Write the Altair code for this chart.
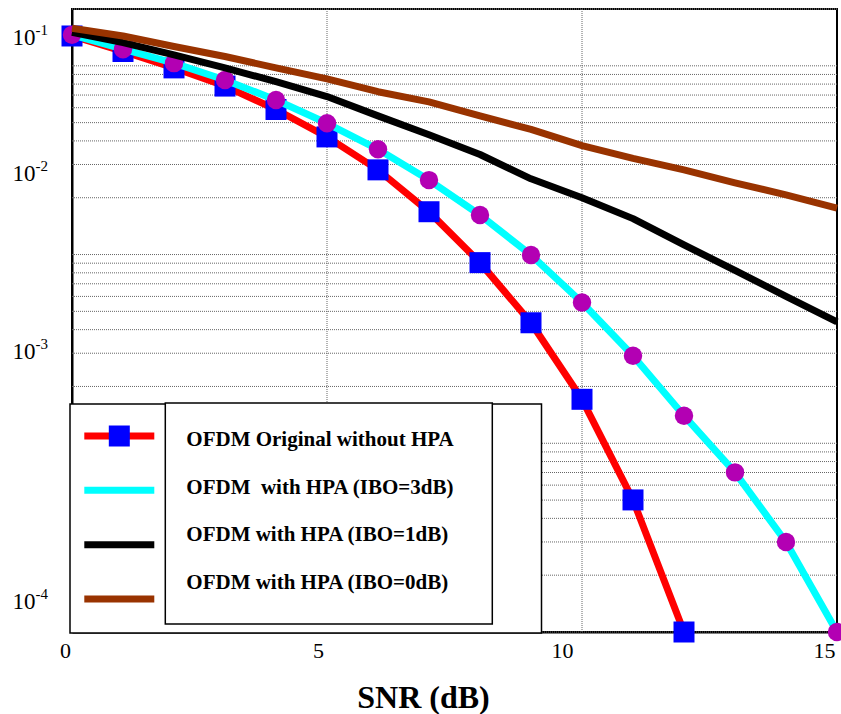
import altair as alt
import pandas as pd

# ---------------- data ----------------
snr = list(range(0, 16))
series_names = [
    "OFDM Original without HPA",
    "OFDM\u00a0 with HPA (IBO=3dB)",
    "OFDM with HPA (IBO=1dB)",
    "OFDM with HPA (IBO=0dB)",
]
series_colors = ["#FF0000", "#00FFFF", "#000000", "#993300"]

ber_orig = [0.1439, 0.1191, 0.0975, 0.0781, 0.0587, 0.0420, 0.0281, 0.01686,
            0.00906, 0.00435, 0.00171, 0.000501, 0.0001]
ber_ibo3 = [0.1459, 0.1225, 0.1033, 0.0841, 0.0659, 0.0496, 0.0361, 0.0248,
            0.0162, 0.00995, 0.00557, 0.00291, 0.00140, 0.000701, 0.000300, 0.0001]
ber_ibo1 = [0.1507, 0.1327, 0.1143, 0.0975, 0.0824, 0.0687, 0.0543, 0.0431,
            0.0339, 0.0252, 0.0200, 0.0155, 0.01125, 0.00824, 0.00600, 0.00440]
ber_ibo0 = [0.158, 0.1439, 0.1265, 0.1120, 0.0975, 0.0853, 0.0729, 0.0644,
            0.0543, 0.0460, 0.0378, 0.0323, 0.0281, 0.0240, 0.0207, 0.0176]

# tick labels (as they appear in the figure) and where they sit
y_tick_base = ["10", "10", "10", "10"]
y_tick_exp = ["-1", "-2", "-3", "-4"]
y_tick_values = [0.1406, 0.02703, 0.003048, 0.0001442]
x_tick_values = [0, 5, 10, 15]

grid_y = [m * 10.0 ** e for e in range(-4, 0) for m in range(1, 10)] + [0.2]
grid_x = [5, 10]

all_ber = [ber_orig, ber_ibo3, ber_ibo1, ber_ibo0]
rows = []
for name, vals in zip(series_names, all_ber):
    for s, v in zip(snr, vals):
        rows.append({"snr": s, "ber": v, "series": name})
df = pd.DataFrame(rows)
df_leg = pd.DataFrame({"series": series_names})

# ---------------- scales / axes ----------------
W, H = 765, 623
FONT = "Liberation Serif"
xscale = alt.Scale(domain=[0, 15], nice=False, zero=False)
yscale = alt.Scale(type="log", domain=[1e-4, 0.2], nice=False)

IDX = "[-floor(log(datum.value)/LN10)-1]"
def js_list(items):
    return "[" + ",".join("'%s'" % t for t in items) + "]"

yaxis_base = alt.Axis(values=y_tick_values, labelExpr=js_list(y_tick_base) + IDX,
                      orient="left", grid=False, ticks=False, title=None,
                      labelFont=FONT, labelFontSize=23, labelPadding=37,
                      labelColor="black", labelOverlap=False, labelBaseline="middle",
                      domainColor="black", domainWidth=2)
yaxis_exp = alt.Axis(values=y_tick_values, labelExpr=js_list(y_tick_exp) + IDX,
                     orient="left", grid=False, ticks=False, title=None,
                     labelFont=FONT, labelFontSize=15, labelPadding=37, labelAlign="left",
                     labelOffset=-8, labelColor="black", labelOverlap=False,
                     labelBaseline="middle", domain=False)
x_offsets = {"condition": [{"test": "datum.value == 0", "value": -7},
                           {"test": "datum.value == 5", "value": -9},
                           {"test": "datum.value == 10", "value": -20}],
             "value": -13}
xaxis = alt.Axis(values=x_tick_values, format="d",
                 grid=False, ticks=False, title="SNR (dB)", labelFont=FONT,
                 labelFontSize=22, labelPadding=8, labelColor="black",
                 labelOverlap=False, labelFlush=False, labelOffset=x_offsets,
                 domainColor="black", domainWidth=2, titleFont=FONT,
                 titleFontSize=32, titleFontWeight="bold", titleColor="black",
                 titleX=351, titleY=65, titleBaseline="middle")

X = alt.X("snr:Q", scale=xscale, axis=xaxis)
Y_main = alt.Y("ber:Q", scale=yscale, axis=yaxis_base)
Y_plain = alt.Y("ber:Q", scale=yscale, axis=None)

gy = alt.Chart(pd.DataFrame({"g": grid_y})).mark_rule(
    color="#666666", strokeWidth=1, strokeDash=[1, 1]
).encode(y=alt.Y("g:Q", scale=yscale, axis=yaxis_exp))
gx = alt.Chart(pd.DataFrame({"g": grid_x})).mark_rule(
    color="#666666", strokeWidth=1, strokeDash=[1, 1]
).encode(x=alt.X("g:Q", scale=xscale, axis=xaxis))

def line_layer(name, color, y):
    return alt.Chart(df[df.series == name]).mark_line(
        color=color, strokeWidth=7, strokeJoin="round"
    ).encode(x=X, y=y)

red_line = line_layer(series_names[0], series_colors[0], Y_main)
cyan_line = line_layer(series_names[1], series_colors[1], Y_plain)
black_line = line_layer(series_names[2], series_colors[2], Y_plain)
brown_line = line_layer(series_names[3], series_colors[3], Y_plain)

squares = alt.Chart(df[df.series == series_names[0]]).mark_square(
    size=441, color="#0000FF", opacity=1
).encode(x=X, y=Y_plain)
circles = alt.Chart(df[df.series == series_names[1]]).mark_circle(
    size=340, color="#B300B3", opacity=1
).encode(x=X, y=Y_plain)

main = alt.layer(gy, gx, red_line, squares, cyan_line, circles, black_line,
                 brown_line).resolve_axis(y="independent")

# ---------------- legend (drawn) ----------------
outer_box = alt.Chart(df_leg.head(1)).mark_rect(
    fill="white", stroke="black", strokeWidth=1.5
).encode(x=alt.value(-2), x2=alt.value(469.5), y=alt.value(395), y2=alt.value(624))
inner_box = alt.Chart(df_leg.head(1)).mark_rect(
    fill="white", stroke="black", strokeWidth=1.5
).encode(x=alt.value(93.3), x2=alt.value(420.3), y=alt.value(394), y2=alt.value(615))

sym_y = alt.Y("series:N", axis=None,
              scale=alt.Scale(type="point", domain=series_names, range=[427, 590], padding=0))
txt_y = alt.Y("series:N", axis=None,
              scale=alt.Scale(type="point", domain=series_names, range=[431, 574], padding=0))

leg_lines = alt.Chart(df_leg).mark_rule(strokeWidth=7).encode(
    x=alt.value(12.3), x2=alt.value(82.3), y=sym_y,
    color=alt.Color("series:N", scale=alt.Scale(domain=series_names, range=series_colors),
                    legend=None),
)
leg_square = alt.Chart(df_leg.head(1)).mark_square(
    size=441, color="#0000FF", opacity=1
).encode(x=alt.value(47.3), y=sym_y)
leg_sym = alt.layer(leg_lines, leg_square)

leg_text = alt.Chart(df_leg).mark_text(
    align="left", baseline="middle", font=FONT, fontSize=21, fontWeight="bold", color="black"
).encode(x=alt.value(114.3), y=txt_y, text="series:N")

chart = alt.layer(main, outer_box, inner_box, leg_sym, leg_text).resolve_scale(
    y="independent"
).properties(
    width=W, height=H,
    autosize=alt.AutoSizeParams(type="none"),
    padding={"left": 72, "top": 9, "right": 4, "bottom": 82},
    background="white",
).configure_view(stroke="black", strokeWidth=2)

chart.save("out.html", embed_options={"renderer": "svg", "actions": False})
